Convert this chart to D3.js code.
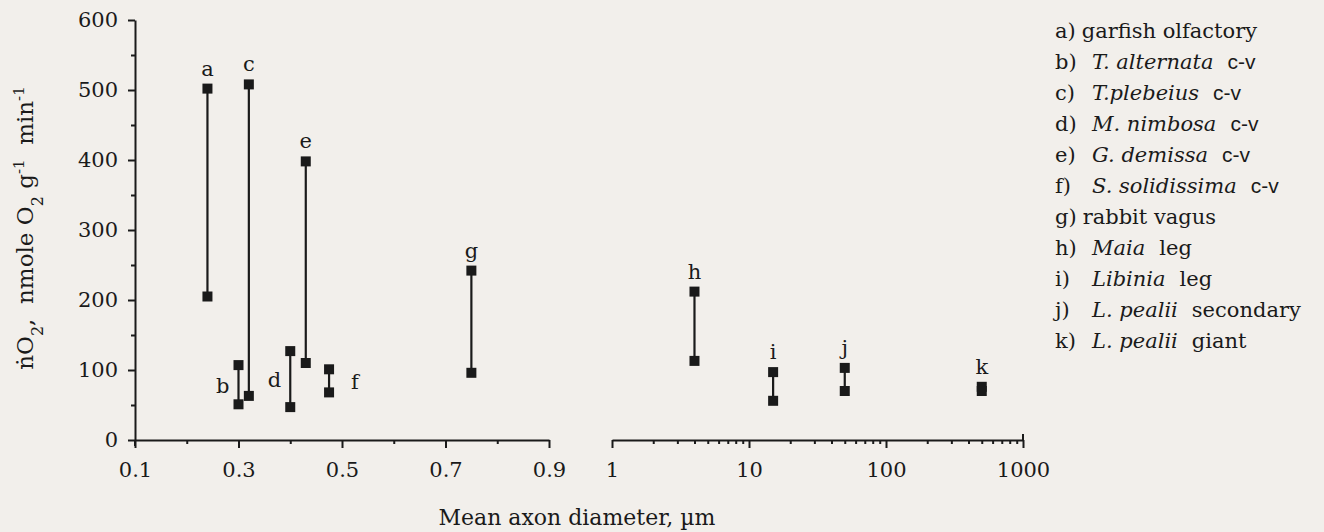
<!DOCTYPE html>
<html>
<head>
<meta charset="utf-8">
<script src="https://cdn.jsdelivr.net/npm/d3@7"></script>
<style>
  body { margin: 0; background: #f2efeb; }
  svg { display: block; }
  .axis path, .axis line { stroke: #1a1a1a; stroke-width: 2px; }
  .axis text { font-family: "DejaVu Serif", serif; font-size: 21px; fill: #1a1a1a; }
</style>
</head>
<body>
<svg id="chart" width="1324" height="532"></svg>
<script>
// data
var labels   = ['a','b','c','d','e','f','g','h','i','j','k'];
var diameter = [0.24, 0.30, 0.32, 0.40, 0.43, 0.475, 0.75, 4, 15, 50, 500];
var qHigh    = [502, 107, 508, 127, 398, 101, 242, 212, 97, 103, 76];
var qLow     = [205,  51,  63,  47, 110,  68,  96, 113, 56,  70, 70];
var labelPos = ['top','left','top','left','top','right','top','top','top','top','top'];

var yTicks       = [0, 100, 200, 300, 400, 500, 600];
var yMinorTicks  = [50, 150, 250, 350, 450, 550];
var xLinTicks    = [0.1, 0.3, 0.5, 0.7, 0.9];
var xLinMinor    = [0.2, 0.4, 0.6, 0.8];
var xLogTicks    = [1, 10, 100, 1000];
var xLogMinor    = [2,3,4,5,6,7,8,9,20,30,40,50,60,70,80,90,200,300,400,500,600,700,800,900];

var legendKeys    = ['a)','b)','c)','d)','e)','f)','g)','h)','i)','j)','k)'];
var legendSpecies = ['', 'T. alternata', 'T.plebeius', 'M. nimbosa', 'G. demissa', 'S. solidissima', '', 'Maia', 'Libinia', 'L. pealii', 'L. pealii'];
var legendTail    = ['garfish olfactory', 'c-v', 'c-v', 'c-v', 'c-v', 'c-v', 'rabbit vagus', 'leg', 'leg', 'secondary', 'giant'];
var legendSans    = [false, true, true, true, true, true, false, false, false, false, false];

var svg = d3.select('#chart');
var ink = '#1a1a1a';
var serif = '"DejaVu Serif", serif';

var y  = d3.scaleLinear().domain([0, 600]).range([440, 20]);
var xl = d3.scaleLinear().domain([0.1, 0.9]).range([135, 549]);
var xr = d3.scaleLog().domain([1, 1000]).range([612, 1023]);
var xPos = function(d) { return d < 1 ? xl(d) : xr(d); };

// y axis
svg.append('g').attr('class','axis')
  .attr('transform','translate(' + xl(0.1) + ',0)')
  .call(d3.axisLeft(y).tickValues(yTicks).tickSize(7).tickSizeOuter(0).tickPadding(10).tickFormat(d3.format('d')));
svg.append('g').attr('class','axis')
  .attr('transform','translate(' + xl(0.1) + ',0)')
  .call(d3.axisLeft(y).tickValues(yMinorTicks).tickSize(4).tickFormat(''))
  .select('.domain').remove();
// little cross below the origin
svg.append('line').attr('x1', xl(0.1)).attr('x2', xl(0.1))
  .attr('y1', y(0)).attr('y2', y(0) + 6).attr('stroke', ink).attr('stroke-width', 2);

// left (linear) x axis
svg.append('g').attr('class','axis')
  .attr('transform','translate(0,' + y(0) + ')')
  .call(d3.axisBottom(xl).tickValues(xLinTicks).tickSize(8).tickSizeOuter(0).tickPadding(14).tickFormat(d3.format('.1f')));
svg.append('g').attr('class','axis')
  .attr('transform','translate(0,' + y(0) + ')')
  .call(d3.axisBottom(xl).tickValues(xLinMinor).tickSize(4).tickFormat(''))
  .select('.domain').remove();

// right (log) x axis
svg.append('g').attr('class','axis')
  .attr('transform','translate(0,' + y(0) + ')')
  .call(d3.axisBottom(xr).tickValues(xLogTicks).tickSize(8).tickSizeOuter(0).tickPadding(14).tickFormat(d3.format('d')));
svg.append('g').attr('class','axis')
  .attr('transform','translate(0,' + y(0) + ')')
  .call(d3.axisBottom(xr).tickValues(xLogMinor).tickSize(4).tickFormat(''))
  .select('.domain').remove();
svg.append('line').attr('x1', xr(1000)).attr('x2', xr(1000))
  .attr('y1', y(0) - 6).attr('y2', y(0)).attr('stroke', ink).attr('stroke-width', 2);

// axis titles
svg.append('text')
  .attr('x', 577).attr('y', 525)
  .attr('text-anchor','middle')
  .style('font-family', serif).style('font-size','22px').style('fill', ink)
  .text('Mean axon diameter, \u00b5m');

var yl = svg.append('text')
  .attr('transform','translate(33,228) rotate(-90)')
  .attr('text-anchor','middle')
  .style('white-space','pre')
  .style('font-family', serif).style('font-size','23px').style('fill', ink);
yl.append('tspan').text('\u1e45O');
yl.append('tspan').attr('baseline-shift','sub').style('font-size','16px').text('2');
yl.append('tspan').text(',  nmole O');
yl.append('tspan').attr('baseline-shift','sub').style('font-size','16px').text('2');
yl.append('tspan').text(' g');
yl.append('tspan').attr('baseline-shift','super').style('font-size','15px').text('-1');
yl.append('tspan').text('  min');
yl.append('tspan').attr('baseline-shift','super').style('font-size','15px').text('-1');

// ranges
var idx = d3.range(labels.length);
svg.selectAll('line.range').data(idx).enter().append('line')
  .attr('class','range')
  .attr('x1', function(i) { return xPos(diameter[i]); })
  .attr('x2', function(i) { return xPos(diameter[i]); })
  .attr('y1', function(i) { return y(qHigh[i]); })
  .attr('y2', function(i) { return y(qLow[i]); })
  .attr('stroke', ink).attr('stroke-width', 2.2);

var sq = 10;
var pts = [];
idx.forEach(function(i) { pts.push({i:i, v:qHigh[i]}); pts.push({i:i, v:qLow[i]}); });
svg.selectAll('rect.pt').data(pts).enter().append('rect')
  .attr('class','pt')
  .attr('x', function(d) { return xPos(diameter[d.i]) - sq/2; })
  .attr('y', function(d) { return y(d.v) - sq/2; })
  .attr('width', sq).attr('height', sq)
  .attr('fill', ink);

// letters on the ranges
svg.selectAll('text.lab').data(idx).enter().append('text')
  .attr('class','lab')
  .attr('x', function(i) {
    var x = xPos(diameter[i]);
    if (labelPos[i] === 'left') return x - 9;
    if (labelPos[i] === 'right') return x + 22;
    return x;
  })
  .attr('y', function(i) {
    if (labelPos[i] === 'top') return y(qHigh[i]) - 13;
    return (y(qHigh[i]) + y(qLow[i])) / 2 + 8;
  })
  .attr('text-anchor', function(i) { return labelPos[i] === 'left' ? 'end' : (labelPos[i] === 'right' ? 'start' : 'middle'); })
  .style('font-family', serif).style('font-size','21px').style('fill', ink)
  .text(function(i) { return labels[i]; });

// legend
var lg = svg.append('g').attr('transform','translate(1055,0)');
legendKeys.forEach(function(k, i) {
  var t = lg.append('text').attr('x', 0).attr('y', 38 + i * 31)
    .style('font-family', serif).style('font-size','21px').style('fill', ink);
  t.append('tspan').text(k);
  if (legendSpecies[i]) {
    t.append('tspan').attr('x', 37).style('font-style','italic').text(legendSpecies[i]);
    t.append('tspan').attr('dx', 14)
      .style('font-family', legendSans[i] ? '"Liberation Sans", sans-serif' : serif)
      .text(legendTail[i]);
  } else {
    t.append('tspan').attr('dx', 6).text(legendTail[i]);
  }
});
</script>
</body>
</html>
